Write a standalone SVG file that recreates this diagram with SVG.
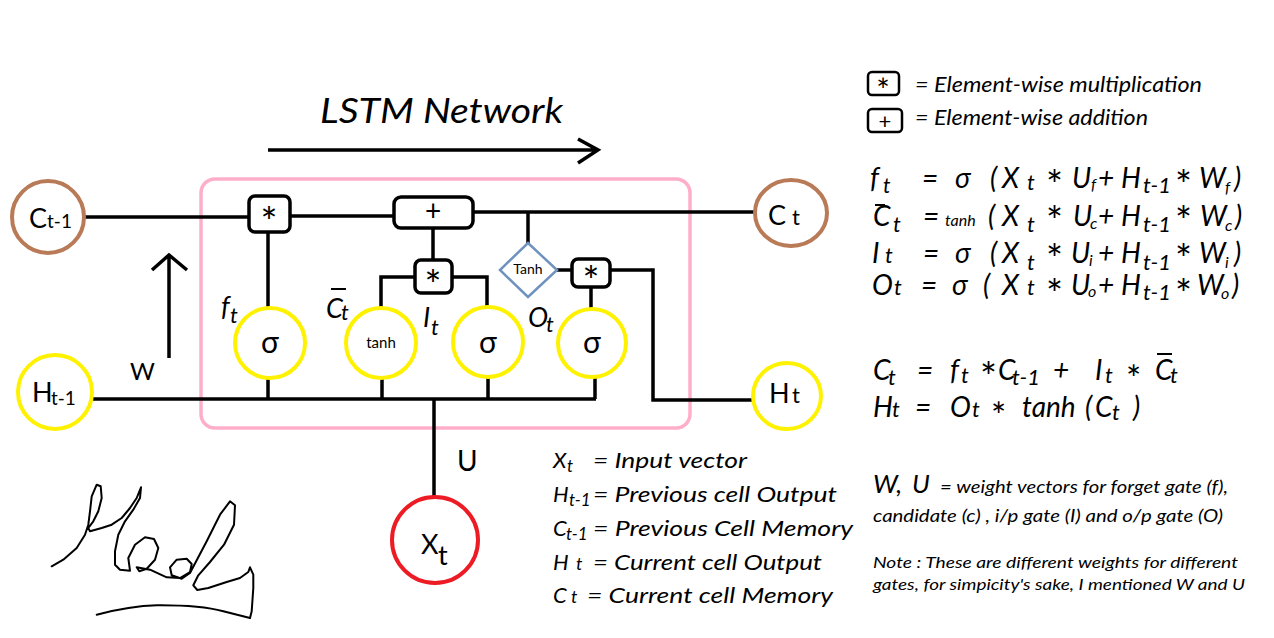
<svg xmlns="http://www.w3.org/2000/svg" width="1274" height="638" viewBox="0 0 1274 638">
<style>
.ln{stroke:#000;stroke-width:3.5;fill:none;stroke-linecap:butt;stroke-linejoin:miter}
.gate{fill:#fff;stroke:#000;stroke-width:3.5}
.yc{fill:#fff;stroke:#fff200;stroke-width:4}
.bc{fill:#fff;stroke:#b97a57;stroke-width:4}
.t{font-family:Lato,"Open Sans","DejaVu Sans",sans-serif;fill:#000}
.it{font-style:italic}
.mid{text-anchor:middle}
.ast{font-family:Lato,"Open Sans",sans-serif;font-style:normal;font-size:40px}
</style>
<rect width="1274" height="638" fill="#fff"/>

<g id="cell-box">
  <rect x="201" y="179" width="489" height="249" rx="14" fill="none" stroke="#ffaec9" stroke-width="3.5"/>
</g>

<text class="t it" x="320" y="123" font-size="34" textLength="243" lengthAdjust="spacingAndGlyphs">LSTM Network</text>

<g id="connectors">
  <path class="ln" d="M85,217 H248"/>
  <path class="ln" d="M290,216 H393"/>
  <path class="ln" d="M473,212 H755"/>
  <path class="ln" d="M528,212 V243"/>
  <path class="ln" d="M557,270 H572"/>
  <path class="ln" d="M610,270 H653 V400 H753"/>
  <path class="ln" d="M433,228 V260"/>
  <path class="ln" d="M415,277 H381 V308"/>
  <path class="ln" d="M452,277 H487 V307"/>
  <path class="ln" d="M268,308 V232"/>
  <path class="ln" d="M591,309 V287"/>
  <path class="ln" d="M92,399 H596"/>
  <path class="ln" d="M268,378 V399 M382,378 V399 M488,377 V399 M595,377 V399"/>
  <path class="ln" d="M434,497 V399"/>
  <path class="ln" d="M169,358 V256 M152,270 L169,255 L187,270"/>
  <path class="ln" d="M268,150 H597 M578,139 L598,150 L578,163"/>
</g>

<g id="c_prev">
  <circle class="bc" cx="48" cy="217" r="36"/>
  <text class="t" x="29" y="228" font-size="27">C<tspan font-size="19">t-1</tspan></text>
</g>
<g id="h_prev">
  <circle class="yc" cx="55" cy="392" r="37"/>
  <text class="t" x="32" y="402" font-size="27">H<tspan x="51" y="405" font-size="19">t-1</tspan></text>
</g>
<g id="c_t">
  <ellipse class="bc" cx="791" cy="213" rx="36" ry="33"/>
  <text class="t" x="768" y="225" font-size="27">C<tspan x="792" font-size="22">t</tspan></text>
</g>
<g id="h_t">
  <ellipse class="yc" cx="787" cy="396" rx="34" ry="33"/>
  <text class="t" x="769" y="403" font-size="27">H<tspan x="792" font-size="22">t</tspan></text>
</g>
<g id="x_t">
  <circle fill="#fff" stroke="#ed1c24" stroke-width="4" cx="435" cy="540" r="43"/>
  <text class="t" x="421" y="554" font-size="27">X<tspan x="438" y="565">t</tspan></text>
</g>

<g id="forget_mul">
  <rect class="gate" x="249" y="196" width="41" height="36" rx="6"/>
  <text class="t mid ast" x="269" y="237">*</text>
</g>
<g id="add">
  <rect class="gate" x="394" y="197" width="79" height="31" rx="7"/>
  <text class="t mid" x="433" y="221" font-size="28">+</text>
</g>
<g id="input_mul">
  <rect class="gate" x="415" y="260" width="37" height="33" rx="6"/>
  <text class="t mid ast" x="433" y="300">*</text>
</g>
<g id="output_mul">
  <rect class="gate" x="572" y="259" width="38" height="28" rx="6"/>
  <text class="t mid ast" x="591" y="296">*</text>
</g>
<g id="tanh_gate">
  <polygon points="528,243 557,270 528,297 500,270" fill="#fff" stroke="#7092be" stroke-width="2.5"/>
  <text class="t mid" x="528" y="274" font-size="14" fill="#222">Tanh</text>
</g>

<g id="forget_sigma">
  <circle class="yc" cx="270" cy="343" r="35"/>
  <text class="t mid" x="270" y="353" font-size="30">σ</text>
  <text class="t it" x="221" y="316" font-size="27">f<tspan x="230" y="323" font-size="22">t</tspan></text>
</g>
<g id="cand_tanh">
  <circle class="yc" cx="381" cy="343" r="35"/>
  <text class="t mid" x="381" y="348" font-size="15">tanh</text>
  <text class="t it" x="326" y="318" font-size="27">C<tspan x="341" y="320" font-size="22">t</tspan></text>
  <path d="M331,289 H346" stroke="#000" stroke-width="2"/>
</g>
<g id="input_sigma">
  <circle class="yc" cx="488" cy="342" r="35"/>
  <text class="t mid" x="488" y="353" font-size="30">σ</text>
  <text class="t it" x="423" y="327" font-size="27">I<tspan x="431" y="335" font-size="22">t</tspan></text>
</g>
<g id="output_sigma">
  <circle class="yc" cx="592" cy="343" r="34"/>
  <text class="t mid" x="592" y="353" font-size="30">σ</text>
  <text class="t it" x="528" y="327" font-size="27">O<tspan x="546" y="332" font-size="22">t</tspan></text>
</g>

<g id="w_label"><text class="t" x="130" y="380" font-size="24">W</text></g>
<g id="u_label"><text class="t" x="457" y="471" font-size="28">U</text></g>

<g id="legend-symbols">
  <rect x="868" y="72" width="31" height="23" rx="4" fill="#fff" stroke="#000" stroke-width="2.5"/>
  <text class="t mid" x="883" y="102" font-size="32">*</text>
  <text class="t it" x="915" y="92" font-size="21" textLength="287" lengthAdjust="spacingAndGlyphs">= Element-wise multiplication</text>
  <rect x="868" y="109" width="34" height="23" rx="4" fill="#fff" stroke="#000" stroke-width="2.5"/>
  <text class="t mid" x="885" y="129" font-size="22">+</text>
  <text class="t it" x="915" y="125" font-size="21" textLength="233" lengthAdjust="spacingAndGlyphs">= Element-wise addition</text>
</g>

<g id="equations" class="t it" font-size="28">
  <text y="188"><tspan x="870">f</tspan><tspan x="883" y="193" font-size="21">t</tspan><tspan x="922" y="188">=</tspan><tspan x="955">σ</tspan><tspan x="990">(</tspan><tspan x="1002">X</tspan><tspan x="1027" y="190" font-size="22">t</tspan><tspan x="1046" y="200" class="ast">*</tspan><tspan x="1072" y="188">U</tspan><tspan x="1091" y="190" font-size="16">f</tspan><tspan x="1098" y="188">+</tspan><tspan x="1121">H</tspan><tspan x="1143" y="193" font-size="22">t-1</tspan><tspan x="1175" y="200" class="ast">*</tspan><tspan x="1199" y="188">W</tspan><tspan x="1225" y="193" font-size="16">f</tspan><tspan x="1234" y="188">)</tspan></text>
  <text y="226"><tspan x="873">C</tspan><tspan x="893" y="232" font-size="22">t</tspan><tspan x="923" y="226">=</tspan><tspan x="945" font-size="16">tanh</tspan><tspan x="988">(</tspan><tspan x="1002">X</tspan><tspan x="1027" y="232" font-size="22">t</tspan><tspan x="1046" y="236" class="ast">*</tspan><tspan x="1073" y="226">U</tspan><tspan x="1090" y="229" font-size="16">c</tspan><tspan x="1098" y="226">+</tspan><tspan x="1121">H</tspan><tspan x="1143" y="232" font-size="22">t-1</tspan><tspan x="1175" y="236" class="ast">*</tspan><tspan x="1200" y="226">W</tspan><tspan x="1225" y="231" font-size="16">c</tspan><tspan x="1235" y="226">)</tspan></text>
  <path d="M875,205 H885" stroke="#000" stroke-width="2"/>
  <text y="263"><tspan x="872">I</tspan><tspan x="885" font-size="22">t</tspan><tspan x="923">=</tspan><tspan x="955">σ</tspan><tspan x="990">(</tspan><tspan x="1002">X</tspan><tspan x="1027" y="270" font-size="22">t</tspan><tspan x="1046" y="274" class="ast">*</tspan><tspan x="1071" y="263">U</tspan><tspan x="1089" y="266" font-size="16">i</tspan><tspan x="1098" y="263">+</tspan><tspan x="1121">H</tspan><tspan x="1143" y="270" font-size="22">t-1</tspan><tspan x="1175" y="274" class="ast">*</tspan><tspan x="1199" y="263">W</tspan><tspan x="1225" y="268" font-size="16">i</tspan><tspan x="1234" y="263">)</tspan></text>
  <text y="295"><tspan x="872">O</tspan><tspan x="894" font-size="22">t</tspan><tspan x="921">=</tspan><tspan x="952">σ</tspan><tspan x="983">(</tspan><tspan x="1002">X</tspan><tspan x="1027" font-size="22">t</tspan><tspan x="1046" y="309" class="ast">*</tspan><tspan x="1071" y="295">U</tspan><tspan x="1088" y="297" font-size="16">o</tspan><tspan x="1098" y="295">+</tspan><tspan x="1121">H</tspan><tspan x="1143" y="300" font-size="22">t-1</tspan><tspan x="1175" y="309" class="ast">*</tspan><tspan x="1197" y="295">W</tspan><tspan x="1221" y="299" font-size="16">o</tspan><tspan x="1232" y="295">)</tspan></text>
  <text y="380"><tspan x="873">C</tspan><tspan x="888" y="385" font-size="22">t</tspan><tspan x="917" y="380">=</tspan><tspan x="950">f</tspan><tspan x="961" y="383" font-size="22">t</tspan><tspan x="980" y="392" class="ast" font-size="36">*</tspan><tspan x="998" y="380">C</tspan><tspan x="1012" y="385" font-size="22">t-1</tspan><tspan x="1053" y="380">+</tspan><tspan x="1095">I</tspan><tspan x="1105" y="383" font-size="22">t</tspan><tspan x="1126" y="392" class="ast" style="font-size:36px">*</tspan><tspan x="1155" y="380">C</tspan><tspan x="1170" y="383" font-size="22">t</tspan></text>
  <path d="M1157,354 H1172" stroke="#000" stroke-width="2"/>
  <text y="417"><tspan x="873">H</tspan><tspan x="892" font-size="22">t</tspan><tspan x="915">=</tspan><tspan x="950">O</tspan><tspan x="972" font-size="22">t</tspan><tspan x="991" y="429" class="ast" style="font-size:36px">*</tspan><tspan x="1022" y="417">tanh</tspan><tspan x="1085">(</tspan><tspan x="1095">C</tspan><tspan x="1112" y="420" font-size="22">t</tspan><tspan x="1133" y="417">)</tspan></text>
</g>

<g id="weights-note" class="t it">
  <text x="873" y="493" font-size="26">W, <tspan x="912">U</tspan></text>
  <text x="940" y="493" font-size="17" textLength="288" lengthAdjust="spacingAndGlyphs">= weight vectors for forget gate (f),</text>
  <text x="873" y="522" font-size="17" textLength="350" lengthAdjust="spacingAndGlyphs">candidate (c) , i/p gate (I) and o/p gate (O)</text>
  <text x="873" y="568" font-size="15.5" textLength="365" lengthAdjust="spacingAndGlyphs">Note : These are different weights for different</text>
  <text x="873" y="590" font-size="15.5" textLength="372" lengthAdjust="spacingAndGlyphs">gates, for simpicity's sake, I mentioned W and U</text>
</g>

<g id="symbol-legend" class="t it" font-size="22">
  <text x="553" y="468">X<tspan x="567" y="472" font-size="17">t</tspan></text>
  <text x="593" y="468" textLength="154" lengthAdjust="spacingAndGlyphs">= Input vector</text>
  <text x="553" y="502">H<tspan x="569" y="506" font-size="17">t-1</tspan></text>
  <text x="593" y="502" textLength="244" lengthAdjust="spacingAndGlyphs">= Previous cell Output</text>
  <text x="553" y="536">C<tspan x="566" y="540" font-size="17">t-1</tspan></text>
  <text x="593" y="536" textLength="260" lengthAdjust="spacingAndGlyphs">= Previous Cell Memory</text>
  <text x="553" y="570">H<tspan x="576" font-size="18">t</tspan></text>
  <text x="593" y="570" textLength="229" lengthAdjust="spacingAndGlyphs">= Current cell Output</text>
  <text x="553" y="603">C<tspan x="571" font-size="18">t</tspan></text>
  <text x="587" y="603" textLength="246" lengthAdjust="spacingAndGlyphs">= Current cell Memory</text>
</g>

<g id="signature" fill="none" stroke="#000" stroke-width="2" stroke-linecap="round" stroke-linejoin="round">
  <path d="M51.7,566.3 L63.3,559.7 L76.7,548 L85,534.7 L88.3,524.7 L90,511.3 L91.7,496.3 L96.7,484.7 L100.7,486.3 L101.7,498 L98.3,511.3 L93.3,521.3 L88.3,528 L90,531.3 L101.7,528 L111.7,524.7 L121.7,518 L130,508 L136.7,498 L141,487.3 L140,498 L133.3,509.7 L125,521.3 L118.3,534.7 L115,551.3 L115,564.7 L120,569.7 L130,570.7 L128.3,558 L135,544.7 L145,537.3 L154,539 L158.3,548 L155,559.7 L146.7,568.7 L139.3,571.3 L136.7,567.3 L150,569.7 L166.7,577.3 L180,578 L190,572 L191.7,564 L186.7,558.7 L176.7,559.7 L170,567.3 L171.7,575.3 L181.7,578.7 L190,573 L206.7,541.3 L220,514.7 L230,501.3 L235,505.3 L234,524.7 L224,544.7 L210,562 L198.3,575.3 L193.3,585.3 L197.3,590 L208.3,588 L226.7,582 L240,578 L248.3,572 L250,567.3 L253.3,574.7 L253.3,588 L251.7,611.3 L250,618"/>
  <path d="M96.7,614.7 Q130,606 157,605.3 Q200,605 223.3,611.3 L250,618"/>
</g>
</svg>
